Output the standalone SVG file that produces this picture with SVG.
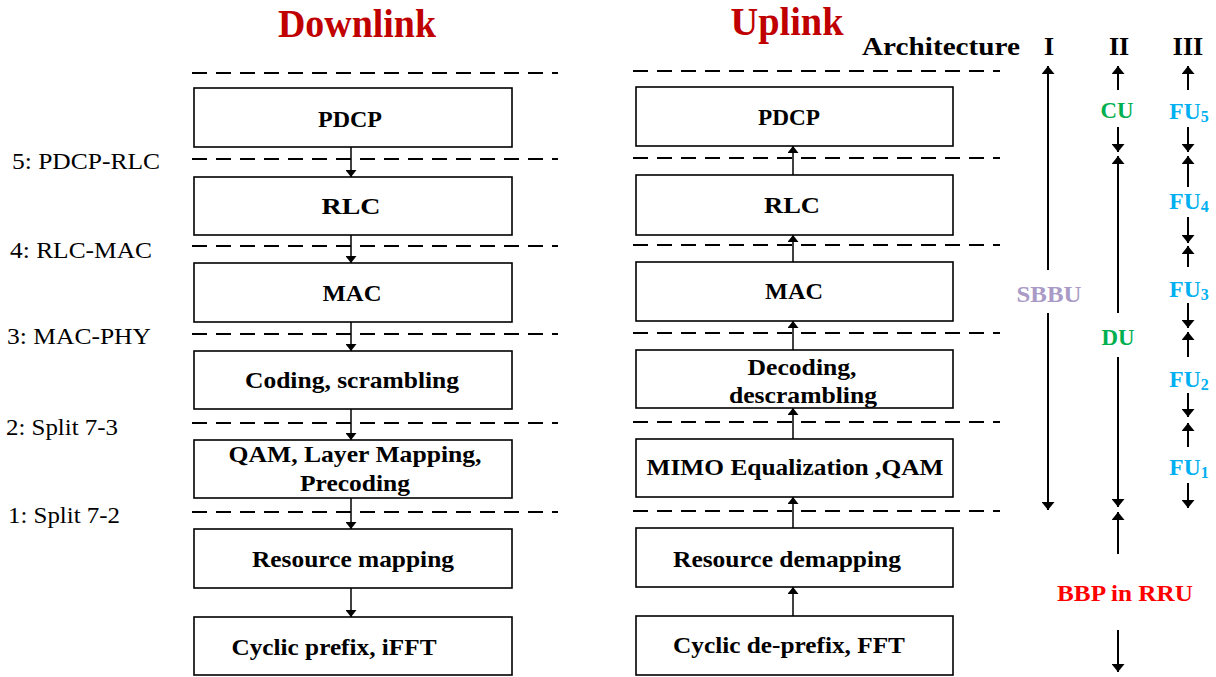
<svg xmlns="http://www.w3.org/2000/svg" width="1216" height="677" viewBox="0 0 1216 677">
  <style>
    .box { fill: #fff; stroke: #000; stroke-width: 1.6; }
    .lbl { font-family: "Liberation Serif", "Times New Roman", serif; font-weight: bold; font-size: 23.5px; fill: #000; text-anchor: middle; }
    .split { font-family: "Liberation Serif", "Times New Roman", serif; font-size: 22.5px; fill: #000; }
    .title { font-family: "Liberation Serif", "Times New Roman", serif; font-weight: bold; font-size: 39px; fill: #c00000; text-anchor: middle; }
    .arch { font-family: "Liberation Serif", "Times New Roman", serif; font-weight: bold; font-size: 26px; fill: #000; }
    .unit { font-family: "Liberation Serif", "Times New Roman", serif; font-weight: bold; font-size: 23.5px; text-anchor: middle; }
    .dash { stroke: #000; stroke-width: 2; stroke-dasharray: 15 9; fill: none; }
    .flow { stroke: #000; stroke-width: 1.5; fill: none; marker-end: url(#tip); }
    .span { stroke: #000; stroke-width: 2; fill: none; }
    .end { marker-end: url(#tipL); }
    .start { marker-start: url(#tipL); }
  </style>
  <defs>
    <marker id="tip" viewBox="0 0 10 10" preserveAspectRatio="none" refX="10" refY="5" markerWidth="7" markerHeight="11" markerUnits="userSpaceOnUse" orient="auto">
      <path d="M0,0 L10,5 L0,10 z" fill="#000"/>
    </marker>
    <marker id="tipL" viewBox="0 0 10 10" preserveAspectRatio="none" refX="10" refY="5" markerWidth="8" markerHeight="13" markerUnits="userSpaceOnUse" orient="auto-start-reverse">
      <path d="M0,0 L10,5 L0,10 z" fill="#000"/>
    </marker>
  </defs>

  <rect width="1216" height="677" fill="#fff"/>

  <!-- headings -->
  <text class="title" x="357" y="37" textLength="158" lengthAdjust="spacingAndGlyphs">Downlink</text>
  <text class="title" x="787" y="35" textLength="113" lengthAdjust="spacingAndGlyphs">Uplink</text>
  <text class="arch" x="862" y="55" textLength="158" lengthAdjust="spacingAndGlyphs">Architecture</text>
  <text class="arch" x="1049" y="55" text-anchor="middle">I</text>
  <text class="arch" x="1119" y="55" text-anchor="middle">II</text>
  <text class="arch" x="1188" y="55" text-anchor="middle">III</text>

  <!-- functional split labels -->
  <g id="split-labels">
    <text class="split" x="12" y="169" textLength="148" lengthAdjust="spacingAndGlyphs">5: PDCP-RLC</text>
    <text class="split" x="10" y="258" textLength="142" lengthAdjust="spacingAndGlyphs">4: RLC-MAC</text>
    <text class="split" x="7" y="344" textLength="144" lengthAdjust="spacingAndGlyphs">3: MAC-PHY</text>
    <text class="split" x="6" y="435" textLength="112" lengthAdjust="spacingAndGlyphs">2: Split 7-3</text>
    <text class="split" x="8" y="523" textLength="112" lengthAdjust="spacingAndGlyphs">1: Split 7-2</text>
  </g>

  <!-- split boundaries -->
  <g id="boundaries">
    <line class="dash" x1="192" y1="73" x2="558" y2="73"/>
    <line class="dash" x1="192" y1="159" x2="558" y2="159"/>
    <line class="dash" x1="192" y1="246" x2="558" y2="246"/>
    <line class="dash" x1="192" y1="334" x2="558" y2="334"/>
    <line class="dash" x1="192" y1="423" x2="558" y2="423"/>
    <line class="dash" x1="192" y1="512" x2="558" y2="512"/>
    <line class="dash" x1="633" y1="71" x2="1000" y2="71"/>
    <line class="dash" x1="633" y1="158" x2="1000" y2="158"/>
    <line class="dash" x1="633" y1="245" x2="1000" y2="245"/>
    <line class="dash" x1="633" y1="333" x2="1000" y2="333"/>
    <line class="dash" x1="633" y1="422" x2="1000" y2="422"/>
    <line class="dash" x1="633" y1="511" x2="1000" y2="511"/>
  </g>

  <!-- downlink chain -->
  <g id="dl-pdcp"><rect class="box" x="194" y="88" width="318" height="59"/><text class="lbl" x="350" y="127" textLength="64" lengthAdjust="spacingAndGlyphs">PDCP</text></g>
  <g id="dl-rlc"><rect class="box" x="194" y="177" width="318" height="58"/><text class="lbl" x="351" y="214" textLength="59" lengthAdjust="spacingAndGlyphs">RLC</text></g>
  <g id="dl-mac"><rect class="box" x="194" y="263" width="318" height="59"/><text class="lbl" x="352" y="301" textLength="59" lengthAdjust="spacingAndGlyphs">MAC</text></g>
  <g id="dl-coding"><rect class="box" x="194" y="351" width="318" height="58"/><text class="lbl" x="352" y="388" textLength="214" lengthAdjust="spacingAndGlyphs">Coding, scrambling</text></g>
  <g id="dl-qam"><rect class="box" x="194" y="440" width="318" height="58"/><text class="lbl" x="355" y="462" textLength="253" lengthAdjust="spacingAndGlyphs">QAM, Layer Mapping,</text><text class="lbl" x="355" y="491" textLength="110" lengthAdjust="spacingAndGlyphs">Precoding</text></g>
  <g id="dl-remap"><rect class="box" x="194" y="529" width="318" height="59"/><text class="lbl" x="353" y="567" textLength="202" lengthAdjust="spacingAndGlyphs">Resource mapping</text></g>
  <g id="dl-cp"><rect class="box" x="194" y="617" width="318" height="58"/><text class="lbl" x="334" y="655" textLength="205" lengthAdjust="spacingAndGlyphs">Cyclic prefix, iFFT</text></g>

  <!-- uplink chain -->
  <g id="ul-pdcp"><rect class="box" x="636" y="87" width="317" height="59"/><text class="lbl" x="789" y="125" textLength="62" lengthAdjust="spacingAndGlyphs">PDCP</text></g>
  <g id="ul-rlc"><rect class="box" x="636" y="175" width="317" height="60"/><text class="lbl" x="792" y="213" textLength="56" lengthAdjust="spacingAndGlyphs">RLC</text></g>
  <g id="ul-mac"><rect class="box" x="636" y="262" width="317" height="59"/><text class="lbl" x="794" y="299" textLength="58" lengthAdjust="spacingAndGlyphs">MAC</text></g>
  <g id="ul-decoding"><rect class="box" x="636" y="350" width="317" height="58"/><text class="lbl" x="802" y="375" textLength="109" lengthAdjust="spacingAndGlyphs">Decoding,</text><text class="lbl" x="803" y="403" textLength="148" lengthAdjust="spacingAndGlyphs">descrambling</text></g>
  <g id="ul-mimo"><rect class="box" x="636" y="439" width="317" height="58"/><text class="lbl" x="795" y="475" textLength="297" lengthAdjust="spacingAndGlyphs">MIMO Equalization ,QAM</text></g>
  <g id="ul-demap"><rect class="box" x="636" y="528" width="317" height="59"/><text class="lbl" x="787" y="567" textLength="228" lengthAdjust="spacingAndGlyphs">Resource demapping</text></g>
  <g id="ul-cp"><rect class="box" x="636" y="616" width="317" height="59"/><text class="lbl" x="789" y="653" textLength="232" lengthAdjust="spacingAndGlyphs">Cyclic de-prefix, FFT</text></g>

  <!-- data flow between layers -->
  <g id="connectors">
    <line class="flow" x1="351" y1="147" x2="351" y2="177"/>
    <line class="flow" x1="351" y1="235" x2="351" y2="263"/>
    <line class="flow" x1="351" y1="322" x2="351" y2="351"/>
    <line class="flow" x1="351" y1="409" x2="351" y2="440"/>
    <line class="flow" x1="351" y1="498" x2="351" y2="529"/>
    <line class="flow" x1="351" y1="588" x2="351" y2="617"/>
    <line class="flow" x1="793" y1="175" x2="793" y2="146"/>
    <line class="flow" x1="793" y1="262" x2="793" y2="235"/>
    <line class="flow" x1="793" y1="350" x2="793" y2="321"/>
    <line class="flow" x1="793" y1="439" x2="793" y2="408"/>
    <line class="flow" x1="793" y1="528" x2="793" y2="497"/>
    <line class="flow" x1="793" y1="616" x2="793" y2="587"/>
  </g>

  <!-- architecture I: single baseband unit -->
  <g id="arch-1">
    <line class="span start" x1="1048" y1="66" x2="1048" y2="270"/>
    <line class="span end" x1="1048" y1="313" x2="1048" y2="510"/>
    <text class="unit" x="1049" y="302" fill="#a99ac6" textLength="65" lengthAdjust="spacingAndGlyphs">SBBU</text>
  </g>

  <!-- architecture II: CU / DU / RRU -->
  <g id="arch-2">
    <line class="span end" x1="1118" y1="90" x2="1118" y2="66"/>
    <line class="span end" x1="1118" y1="127" x2="1118" y2="152"/>
    <line class="span start" x1="1118" y1="156" x2="1118" y2="313"/>
    <line class="span end" x1="1118" y1="357" x2="1118" y2="507"/>
    <line class="span start" x1="1118" y1="512" x2="1118" y2="554"/>
    <line class="span end" x1="1118" y1="630" x2="1118" y2="672"/>
    <text class="unit" x="1117" y="118" fill="#00b050" textLength="33" lengthAdjust="spacingAndGlyphs">CU</text>
    <text class="unit" x="1118" y="345" fill="#00b050" textLength="33" lengthAdjust="spacingAndGlyphs">DU</text>
    <text class="unit" x="1125" y="601" fill="#ff0000" textLength="136" lengthAdjust="spacingAndGlyphs">BBP in RRU</text>
  </g>

  <!-- architecture III: five functional units -->
  <g id="arch-3">
    <line class="span end" x1="1188" y1="90" x2="1188" y2="66"/>
    <line class="span end" x1="1188" y1="127" x2="1188" y2="152"/>
    <line class="span start" x1="1188" y1="156" x2="1188" y2="187"/>
    <line class="span end" x1="1188" y1="217" x2="1188" y2="243"/>
    <line class="span start" x1="1188" y1="246" x2="1188" y2="267"/>
    <line class="span end" x1="1188" y1="303" x2="1188" y2="328"/>
    <line class="span start" x1="1188" y1="332" x2="1188" y2="357"/>
    <line class="span end" x1="1188" y1="393" x2="1188" y2="417"/>
    <line class="span start" x1="1188" y1="423" x2="1188" y2="447"/>
    <line class="span end" x1="1188" y1="483" x2="1188" y2="508"/>
    <g fill="#00b0f0">
      <text class="unit" x="1189" y="119">FU<tspan font-size="16" dy="3">5</tspan></text>
      <text class="unit" x="1189" y="209">FU<tspan font-size="16" dy="3">4</tspan></text>
      <text class="unit" x="1189" y="297">FU<tspan font-size="16" dy="3">3</tspan></text>
      <text class="unit" x="1189" y="387">FU<tspan font-size="16" dy="3">2</tspan></text>
      <text class="unit" x="1189" y="475">FU<tspan font-size="16" dy="3">1</tspan></text>
    </g>
  </g>
</svg>
